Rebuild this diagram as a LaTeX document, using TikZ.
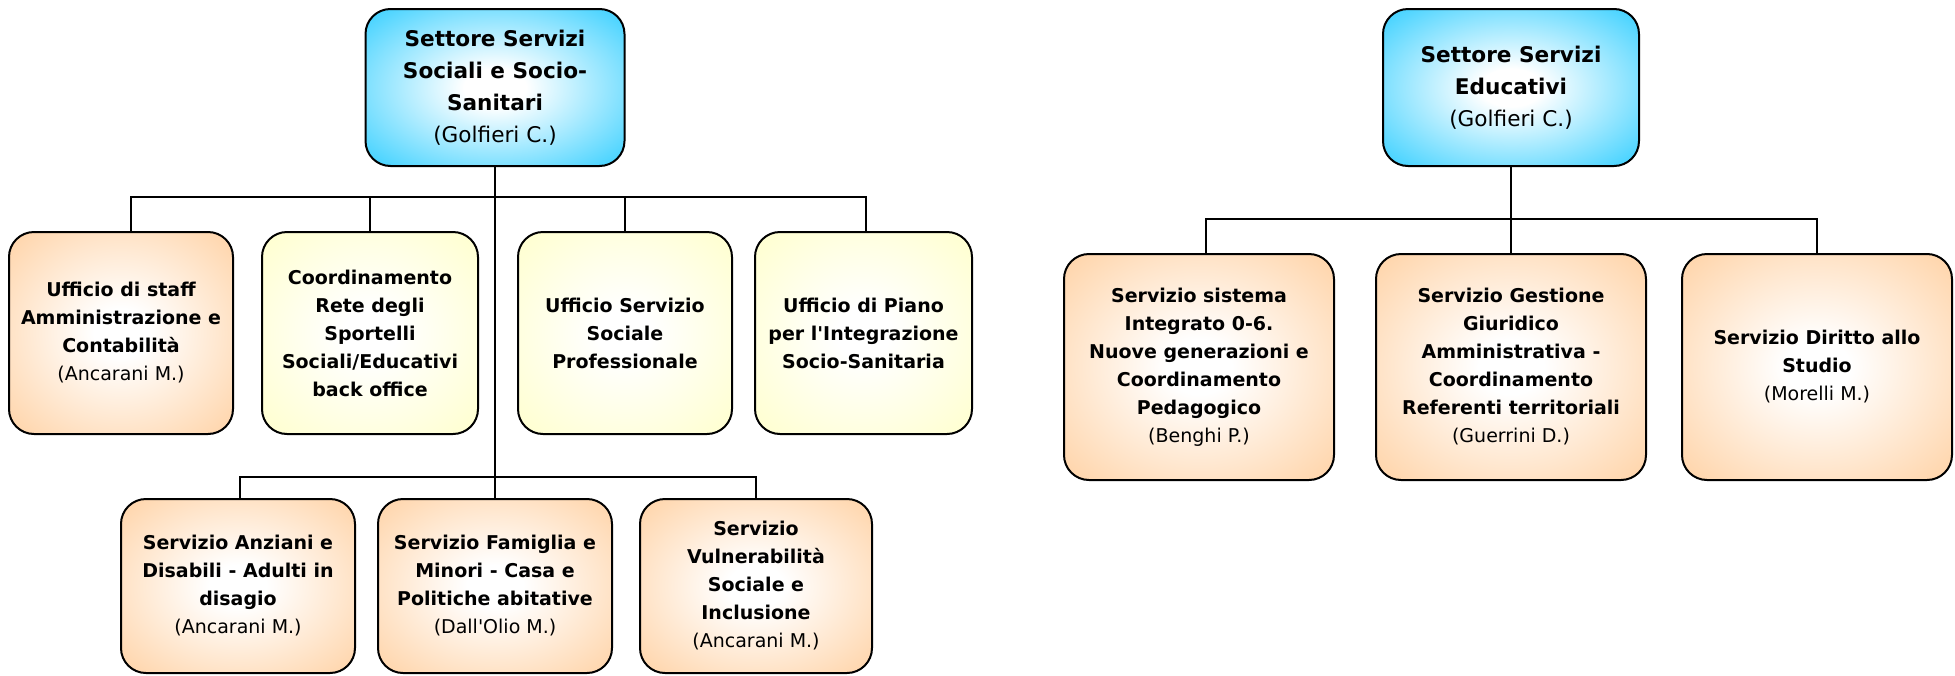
\documentclass[tikz,border=0pt]{standalone}
\usepackage{fontspec}
\setmainfont{DejaVu Sans}[Ligatures=TeXOff]
\usetikzlibrary{calc}
\makeatletter
\pgfdeclareradialshading[tikz@radial@inner,tikz@radial@outer]{softrad}{\pgfpoint{0bp}{0bp}}{%
  color(0bp)=(tikz@radial@inner); color(6bp)=(tikz@radial@inner);
  color(40bp)=(tikz@radial@outer); color(50bp)=(tikz@radial@outer)}
\makeatother
\definecolor{cyanout}{RGB}{25,200,255}
\definecolor{peach}{RGB}{255,204,153}
\definecolor{paleyel}{RGB}{255,255,198}
\tikzset{
  box/.style={draw, line width=1pt, rounded corners=12.5pt, align=center,
    inner sep=0pt, font=\fontsize{9.5}{14}\selectfont\bfseries},
  sz/.style 2 args={minimum width=#1*0.5pt, minimum height=#2*0.5pt},
  topbox/.style={box, inner color=white, outer color=cyanout, shading=softrad,
    font=\fontsize{10.8}{16}\selectfont\bfseries},
  orbox/.style={box, inner color=white, outer color=peach, shading=softrad},
  yebox/.style={box, inner color=white, outer color=paleyel, shading=softrad},
  link/.style={draw, line width=0.75pt}
}
\begin{document}
\begin{tikzpicture}[x=0.5pt, y=-0.5pt]
\useasboundingbox (0,0) rectangle (1955,675);
% left tree
\node[topbox, sz={259}{157}] (T1) at (495,87.5)
  {Settore Servizi\\Sociali e Socio-\\Sanitari\\{\mdseries (Golfieri C.)}};
\node[orbox, sz={224}{202}] (B1) at (121,333)
  {Ufficio di staff\\Amministrazione e\\Contabilità\\{\mdseries (Ancarani M.)}};
\node[yebox, sz={216}{202}] (B2) at (370,333)
  {Coordinamento\\Rete degli\\Sportelli\\Sociali/Educativi\\back office};
\node[yebox, sz={214}{202}] (B3) at (625,333)
  {Ufficio Servizio\\Sociale\\Professionale};
\node[yebox, sz={217}{202}] (B4) at (863.5,333)
  {Ufficio di Piano\\per l'Integrazione\\Socio-Sanitaria};
\node[orbox, sz={234}{174}] (B5) at (238,586)
  {Servizio Anziani e\\Disabili - Adulti in\\disagio\\{\mdseries (Ancarani M.)}};
\node[orbox, sz={234}{174}] (B6) at (495,586)
  {Servizio Famiglia e\\Minori - Casa e\\Politiche abitative\\{\mdseries (Dall'Olio M.)}};
\node[orbox, sz={232}{174}] (B7) at (756,586)
  {Servizio\\Vulnerabilità\\Sociale e\\Inclusione\\{\mdseries (Ancarani M.)}};
% right tree
\node[topbox, sz={256}{157}] (T2) at (1511,87.5)
  {Settore Servizi\\Educativi\\{\mdseries (Golfieri C.)}};
\node[orbox, sz={270}{226}] (C1) at (1199,367)
  {Servizio sistema\\Integrato 0-6.\\Nuove generazioni e\\Coordinamento\\Pedagogico\\{\mdseries (Benghi P.)}};
\node[orbox, sz={270}{226}] (C2) at (1511,367)
  {Servizio Gestione\\Giuridico\\Amministrativa -\\Coordinamento\\Referenti territoriali\\{\mdseries (Guerrini D.)}};
\node[orbox, sz={270}{226}] (C3) at (1817,367)
  {Servizio Diritto allo\\Studio\\{\mdseries (Morelli M.)}};
% connectors
\coordinate (j1) at (495,197);
\coordinate (j2) at (495,477);
\coordinate (j3) at (1511,219);
\draw[link] (T1.south) -- (B6.north);
\draw[link] (j1) -| ($(B1.north)+(10,0)$);
\draw[link] (j1) -| (B2.north);
\draw[link] (j1) -| (B3.north);
\draw[link] (j1) -| ($(B4.north)+(2.5,0)$);
\draw[link] (j2) -| ($(B5.north)+(2,0)$);
\draw[link] (j2) -| (B7.north);
\draw[link] (T2.south) -- (C2.north);
\draw[link] (j3) -| ($(C1.north)+(7,0)$);
\draw[link] (j3) -| (C3.north);
\end{tikzpicture}
\end{document}
